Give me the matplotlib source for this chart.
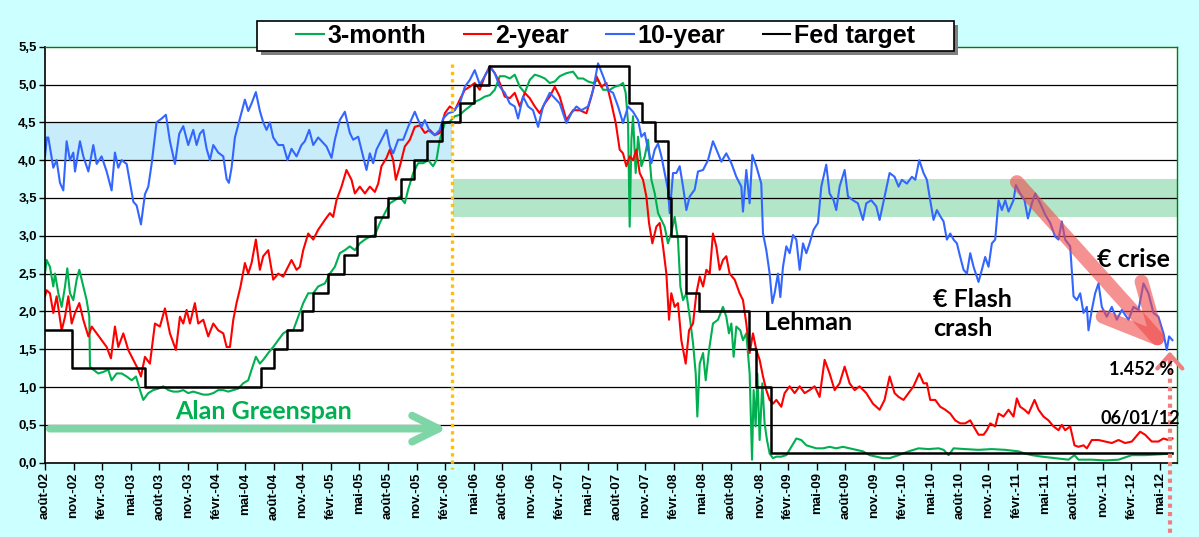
import matplotlib
matplotlib.use("Agg")
import matplotlib.pyplot as plt
from matplotlib.patches import Rectangle

# x = months since août-02
t_bill_m = [0, 0.17, 0.52, 0.87, 1.05, 1.4, 1.75, 2.1, 2.34, 2.62, 2.97, 3.32, 3.6, 4.02, 4.37, 4.65, 4.72, 5.07,
            5.59, 6.12, 6.64, 6.99, 7.52, 8.04, 8.57, 9.09, 9.55, 9.97, 10.31, 10.84, 11.36, 11.89, 12.41, 12.94,
            13.46, 13.99, 14.51, 15.03, 15.56, 16.08, 16.61, 17.13, 17.66, 18.18, 18.71, 19.23, 19.76, 20.28,
            20.8, 21.33, 21.68, 22.13, 22.55, 22.9, 23.43, 23.95, 24.48, 25.0, 25.52, 26.05, 26.57, 27.1, 27.62,
            28.15, 28.67, 29.37, 29.9, 30.42, 30.94, 31.47, 31.99, 32.52, 33.04, 33.57, 34.09, 34.62, 35.14,
            35.66, 36.19, 36.71, 37.24, 37.76, 38.11, 38.64, 39.16, 39.69, 40.21, 40.73, 41.08, 41.43, 41.96,
            42.48, 43.01, 43.53, 44.06, 44.58, 45.1, 45.63, 46.15, 46.68, 47.2, 47.73, 48.25, 48.78, 49.3, 49.83,
            50.35, 50.87, 51.4, 51.92, 52.45, 52.97, 53.5, 54.02, 54.72, 55.42, 55.94, 56.47, 56.99, 57.52, 58.04,
            58.57, 59.27, 59.79, 60.31, 60.66, 60.94, 61.19, 61.36, 61.54, 61.71, 61.99, 62.24, 62.59, 62.94,
            63.29, 63.64, 63.99, 64.34, 64.69, 65.03, 65.38, 65.73, 66.08, 66.43, 66.68, 66.96, 67.31, 67.66,
            68.01, 68.29, 68.46, 68.71, 69.06, 69.34, 69.69, 70.1, 70.63, 71.15, 71.5, 71.78, 72.03, 72.27, 72.55,
            72.97, 73.25, 73.6, 73.95, 74.2, 74.37, 74.58, 74.76, 75.0, 75.28, 75.52, 75.77, 76.05, 76.4, 76.75,
            77.27, 77.8, 78.32, 78.85, 79.37, 79.9, 80.42, 80.94, 81.64, 82.34, 83.04, 83.74, 84.44, 85.14, 85.84,
            86.54, 87.24, 87.94, 88.64, 89.34, 89.58, 90.63, 91.68, 92.72, 93.78, 94.3, 94.83, 95.35, 96.57,
            97.97, 99.37, 100.77, 102.17, 102.87, 103.57, 104.62, 106.01, 107.41, 108.04, 108.46, 109.86, 111.26,
            112.66, 113.36, 114.06, 115.45, 116.85, 118.32]
t_bill = [2.5, 2.68, 2.59, 2.33, 2.5, 2.24, 2.06, 2.33, 2.57, 2.24, 2.15, 2.42, 2.55, 2.33, 2.15, 1.93, 1.27, 1.23,
          1.18, 1.2, 1.23, 1.09, 1.18, 1.18, 1.14, 1.09, 1.14, 0.96, 0.83, 0.92, 0.96, 0.98, 1.01, 0.96,
          0.94, 0.94, 0.96, 0.92, 0.94, 0.92, 0.9, 0.9, 0.92, 0.96, 0.96, 0.94, 0.96, 0.98,
          1.05, 1.09, 1.23, 1.4, 1.31, 1.36, 1.45, 1.53, 1.62, 1.71, 1.75, 1.75, 1.93, 2.11, 2.24,
          2.24, 2.33, 2.37, 2.5, 2.59, 2.77, 2.81, 2.86, 2.81, 2.9, 2.95, 2.99, 3.01, 3.17,
          3.3, 3.43, 3.47, 3.52, 3.43, 3.61, 3.83, 3.96, 3.96, 4.0, 3.92, 4.0, 4.27, 4.49,
          4.51, 4.58, 4.6, 4.66, 4.71, 4.77, 4.8, 4.84, 4.86, 4.93, 5.11, 5.11, 5.08, 5.13, 4.97,
          4.89, 5.06, 5.13, 5.11, 5.08, 5.02, 5.04, 5.11, 5.15, 5.17, 5.08, 5.08, 5.04, 5.02, 5.06,
          4.93, 4.93, 4.97, 4.99, 5.02, 4.89, 4.49, 3.12, 4.27, 4.58, 3.83, 4.31, 3.92, 4.05,
          4.27, 3.74, 3.56, 3.3, 3.21, 3.12, 2.9, 3.04, 3.25, 2.95, 2.33, 2.15, 2.24, 1.93,
          1.58, 1.18, 0.61, 1.31, 1.45, 1.09, 1.49, 1.84, 1.89, 2.06, 1.93, 1.71, 1.84, 1.4, 1.8,
          1.75, 1.62, 1.71, 1.18, 0.04, 0.96, 0.48, 1.18, 0.3, 1.05, 0.52, 0.3, 0.12, 0.06, 0.08,
          0.08, 0.1, 0.21, 0.32, 0.3, 0.23, 0.21, 0.19, 0.19, 0.21, 0.19, 0.21, 0.19, 0.17, 0.15,
          0.1, 0.08, 0.06, 0.06, 0.09, 0.1, 0.15, 0.19, 0.18, 0.19, 0.17, 0.1, 0.19, 0.18,
          0.17, 0.18, 0.17, 0.15, 0.12, 0.1, 0.08, 0.06, 0.04, 0.1, 0.04, 0.04, 0.03,
          0.04, 0.07, 0.1, 0.1, 0.11, 0.12]

two_y_m = [0, 0.17, 0.52, 0.87, 1.22, 1.75, 2.1, 2.45, 2.8, 3.15, 3.6, 4.02, 4.55, 4.9, 5.42, 5.94, 6.47, 6.92,
           7.34, 7.69, 8.22, 8.74, 9.27, 9.79, 10.07, 10.49, 11.01, 11.54, 12.06, 12.59, 13.11, 13.74, 14.16,
           14.51, 14.86, 15.21, 15.73, 16.08, 16.61, 17.13, 17.66, 18.18, 18.71, 19.06, 19.41, 19.76, 20.1,
           20.52, 20.98, 21.33, 21.68, 22.13, 22.55, 22.9, 23.43, 23.95, 24.48, 25.0, 25.35, 25.87, 26.4, 26.75,
           27.1, 27.62, 28.15, 28.67, 29.37, 29.9, 30.24, 30.59, 31.12, 31.64, 32.17, 32.52, 33.04, 33.57, 34.09,
           34.62, 34.97, 35.31, 35.84, 36.19, 36.54, 36.82, 37.24, 37.76, 38.29, 38.81, 39.34, 39.86, 40.38,
           40.91, 41.43, 41.96, 42.48, 43.01, 43.53, 44.06, 44.58, 45.1, 45.63, 46.15, 46.68, 47.2, 47.73, 48.25,
           48.78, 49.3, 49.83, 50.35, 50.87, 51.4, 51.92, 52.45, 52.97, 53.5, 54.02, 54.72, 55.42, 56.12, 56.82,
           57.34, 57.87, 58.39, 58.92, 59.44, 59.9, 60.31, 60.66, 61.01, 61.36, 61.71, 62.06, 62.41, 62.76,
           63.11, 63.39, 63.74, 64.16, 64.51, 64.86, 65.21, 65.49, 65.73, 66.08, 66.43, 66.78, 67.24, 67.59,
           68.01, 68.36, 68.71, 69.06, 69.41, 69.76, 70.1, 70.45, 70.8, 71.15, 71.5, 71.85, 72.38, 72.9, 73.25,
           73.6, 73.95, 74.3, 74.65, 75.0, 75.35, 75.7, 76.05, 76.4, 76.75, 77.27, 77.62, 78.15, 78.67, 79.2,
           79.72, 80.24, 80.77, 81.29, 81.82, 82.34, 82.87, 83.39, 83.92, 84.44, 84.97, 85.49, 86.19, 86.89,
           87.59, 88.11, 88.64, 89.16, 89.58, 90.1, 90.63, 91.15, 91.75, 92.2, 92.55, 92.9, 93.43, 93.95, 94.48,
           95.0, 95.52, 96.05, 96.57, 97.1, 97.45, 97.97, 98.5, 98.85, 99.2, 99.72, 100.07, 100.59, 101.12,
           101.64, 101.99, 102.34, 102.8, 103.22, 103.85, 104.27, 104.79, 105.31, 105.84, 106.36, 106.71,
           107.06, 107.59, 108.04, 108.46, 108.99, 109.34, 109.86, 110.56, 111.26, 111.96, 112.66, 113.36,
           114.06, 114.93, 115.45, 116.15, 116.85, 117.38, 117.9, 118.32]
two_y = [2.2, 2.28, 2.24, 1.98, 2.2, 1.75, 1.93, 2.2, 1.84, 1.98, 2.11, 1.89, 1.67, 1.8, 1.71, 1.62, 1.53, 1.38,
         1.8, 1.53, 1.71, 1.49, 1.36, 1.23, 1.14, 1.4, 1.31, 1.84, 1.8, 2.04, 1.71, 1.49, 1.93,
         1.84, 2.02, 1.84, 2.11, 1.84, 1.89, 1.67, 1.84, 1.75, 1.71, 1.53, 1.53, 1.89, 2.11,
         2.33, 2.64, 2.5, 2.64, 2.95, 2.55, 2.73, 2.81, 2.42, 2.5, 2.46, 2.55, 2.68, 2.55, 2.59,
         2.81, 3.03, 2.95, 3.08, 3.21, 3.3, 3.25, 3.47, 3.65, 3.87, 3.74, 3.56, 3.65, 3.56, 3.65,
         3.58, 3.69, 3.92, 4.03, 4.14, 4.0, 3.74, 3.92, 4.18, 4.27, 4.44, 4.46, 4.36, 4.4,
         4.33, 4.36, 4.62, 4.71, 4.66, 4.8, 4.93, 4.97, 5.02, 4.93, 5.11, 5.24, 5.15, 5.02, 4.84,
         4.82, 4.89, 4.71, 4.89, 4.82, 4.71, 4.62, 4.75, 4.84, 4.97, 4.84, 4.53, 4.66, 4.66, 4.62,
         4.84, 5.11, 4.97, 5.02, 4.75, 4.49, 4.14, 4.09, 3.92, 4.05, 4.0, 4.14, 3.83, 3.74,
         3.52, 3.17, 2.9, 3.12, 3.17, 2.86, 2.5, 1.89, 2.24, 2.06, 2.11, 1.62, 1.31, 1.75,
         1.84, 2.24, 2.46, 2.33, 2.55, 2.5, 3.03, 2.86, 2.55, 2.68, 2.73, 2.5, 2.42, 2.24, 2.15,
         1.84, 1.45, 1.71, 1.49, 1.36, 1.14, 0.96, 0.83, 0.78, 0.83, 0.74, 0.92, 1.01, 0.92, 1.01,
         0.92, 0.96, 1.01, 0.87, 1.36, 1.18, 0.96, 1.05, 1.27, 1.05, 0.96, 1.01, 0.92, 0.78,
         0.7, 0.83, 1.14, 0.92, 0.87, 0.83, 0.92, 1.01, 1.18, 1.05, 1.05, 0.83, 0.83, 0.74, 0.7,
         0.65, 0.56, 0.52, 0.52, 0.56, 0.48, 0.37, 0.37, 0.43, 0.52, 0.48, 0.65, 0.61, 0.7,
         0.61, 0.85, 0.74, 0.7, 0.65, 0.83, 0.7, 0.61, 0.56, 0.48, 0.43, 0.5,
         0.43, 0.48, 0.23, 0.21, 0.23, 0.19, 0.3, 0.3, 0.28, 0.26, 0.3, 0.26,
         0.28, 0.41, 0.37, 0.28, 0.28, 0.32, 0.3, 0.32]

ten_y_m = [0, 0.2, 0.35, 0.87, 1.22, 1.57, 1.92, 2.27, 2.62, 2.97, 3.15, 3.67, 4.02, 4.55, 5.07, 5.42, 5.94, 6.47,
           6.99, 7.34, 7.69, 8.04, 8.57, 8.92, 9.27, 9.62, 10.07, 10.49, 10.84, 11.19, 11.71, 12.24, 12.69,
           13.11, 13.64, 14.09, 14.51, 15.03, 15.56, 15.91, 16.26, 16.61, 16.96, 17.31, 17.66, 18.18, 18.71,
           19.06, 19.3, 19.58, 19.93, 20.45, 20.98, 21.33, 21.68, 22.13, 22.55, 22.9, 23.25, 23.6, 23.95, 24.48,
           25.0, 25.45, 25.87, 26.4, 26.92, 27.27, 27.73, 28.15, 28.67, 29.55, 30.07, 30.42, 30.94, 31.47,
           31.99, 32.34, 32.87, 33.39, 33.74, 34.09, 34.44, 34.79, 35.31, 35.84, 36.19, 36.54, 37.06, 37.59,
           38.11, 38.81, 39.16, 39.51, 39.86, 40.38, 40.91, 41.43, 41.78, 42.31, 42.83, 43.53, 44.06, 44.58,
           45.1, 45.63, 46.15, 46.68, 47.2, 47.73, 48.25, 48.78, 49.3, 49.65, 50.17, 50.7, 51.22, 51.75, 52.27,
           52.97, 53.5, 54.02, 54.72, 55.24, 55.77, 56.29, 56.99, 57.52, 58.04, 58.57, 59.09, 59.62, 60.14,
           60.66, 61.19, 61.71, 62.24, 62.59, 62.94, 63.29, 63.64, 63.99, 64.34, 64.69, 65.03, 65.38, 65.56,
           65.91, 66.26, 66.61, 66.96, 67.31, 67.66, 68.18, 68.53, 69.06, 69.58, 70.1, 70.63, 70.98, 71.5,
           72.03, 72.55, 73.08, 73.25, 73.6, 73.95, 74.23, 74.65, 75.17, 75.35, 75.7, 76.05, 76.33, 76.57,
           76.92, 77.17, 77.45, 77.8, 78.15, 78.5, 78.85, 79.2, 79.55, 79.9, 80.24, 80.66, 81.12, 81.47, 81.99,
           82.34, 82.76, 83.04, 83.39, 83.92, 84.27, 84.79, 85.31, 85.84, 86.19, 86.71, 87.24, 87.59, 88.11,
           88.64, 89.16, 89.58, 89.93, 90.45, 90.98, 91.33, 91.75, 92.2, 92.55, 92.9, 93.25, 93.6, 93.95, 94.3,
           94.65, 95.0, 95.35, 95.7, 96.05, 96.4, 96.75, 97.1, 97.45, 97.97, 98.32, 98.67, 99.02, 99.37, 99.72,
           100.07, 100.42, 100.77, 101.12, 101.64, 101.89, 102.34, 102.8, 103.15, 103.57, 103.92, 104.44,
           104.97, 105.49, 106.01, 106.36, 106.71, 107.06, 107.59, 107.94, 108.29, 108.64, 108.99, 109.34,
           109.51, 109.86, 110.21, 110.56, 110.91, 111.43, 111.96, 112.48, 113.01, 113.71, 114.23, 114.76,
           115.28, 115.8, 116.33, 116.85, 117.38, 117.73, 117.97, 118.32]
ten_y = [4.05, 4.3, 4.3, 3.9, 4.0, 3.7, 3.6, 4.25, 4.0, 4.1, 3.85, 4.25, 4.05, 3.85, 4.2, 3.95, 4.05, 3.85,
         3.6, 4.1, 3.9, 4.0, 3.95, 3.7, 3.45, 3.4, 3.15, 3.55, 3.65, 3.95, 4.5, 4.55, 4.6,
         4.25, 3.95, 4.35, 4.45, 4.2, 4.4, 4.2, 4.35, 4.4, 4.15, 4.0, 4.2, 4.1, 4.05,
         3.75, 3.7, 3.9, 4.3, 4.55, 4.8, 4.65, 4.75, 4.9, 4.65, 4.5, 4.4, 4.5, 4.3, 4.2,
         4.2, 4.0, 4.15, 4.05, 4.2, 4.25, 4.4, 4.2, 4.3, 4.18, 4.03, 4.27, 4.53, 4.64,
         4.36, 4.27, 4.31, 4.05, 3.87, 4.09, 3.96, 4.14, 4.27, 4.4, 4.18, 4.09, 4.27, 4.27,
         4.44, 4.64, 4.53, 4.44, 4.53, 4.38, 4.33, 4.4, 4.55, 4.62, 4.64, 4.75, 4.97, 5.06,
         5.19, 5.0, 5.11, 5.24, 5.15, 4.97, 4.89, 4.75, 4.71, 4.55, 4.84, 4.71, 4.66, 4.44, 4.71,
         4.89, 4.82, 4.75, 4.49, 4.62, 4.71, 4.66, 4.71, 4.93, 5.28, 5.11, 4.93, 4.89, 4.71,
         4.49, 4.71, 4.64, 4.53, 4.31, 4.36, 4.14, 3.96, 4.14, 4.22, 4.05, 3.83, 3.61, 3.3,
         3.83, 3.83, 3.92, 3.65, 3.34, 3.52, 3.61, 3.85, 3.87, 4.0, 4.25, 4.09, 3.98, 4.09,
         3.96, 3.78, 3.65, 3.32, 3.87, 3.43, 4.07, 3.92, 3.69, 3.03, 2.81, 2.5, 2.11, 2.24,
         2.5, 2.19, 2.59, 2.86, 2.77, 3.01, 2.95, 2.55, 2.9, 2.77, 2.9, 3.08, 3.17, 3.65, 3.94,
         3.56, 3.47, 3.34, 3.65, 3.87, 3.52, 3.47, 3.43, 3.21, 3.43, 3.47, 3.39, 3.21, 3.52,
         3.83, 3.78, 3.65, 3.74, 3.69, 3.78, 3.74, 4.0, 3.83, 3.74, 3.47, 3.21, 3.34, 3.26, 3.19,
         2.95, 3.03, 2.95, 2.9, 2.72, 2.55, 2.5, 2.77, 2.59, 2.39, 2.55, 2.72, 2.59, 2.9, 2.95,
         3.47, 3.34, 3.47, 3.32, 3.47, 3.67, 3.56, 3.47, 3.23, 3.43, 3.56, 3.43,
         3.28, 3.17, 2.99, 2.95, 3.19, 2.95, 2.86, 2.2, 2.15, 2.24, 1.98, 2.06,
         1.75, 2.02, 2.24, 2.37, 2.06, 1.93, 2.06, 1.89, 2.02, 1.89, 2.06, 2.02,
         2.37, 2.24, 1.98, 1.93, 1.71, 1.49, 1.67, 1.62]

fed_m = [0, 2.87, 10.5, 22.67, 24.0, 25.37, 27.0, 28.13, 29.73, 31.4, 32.77, 34.67, 35.97, 37.33, 38.7, 40.1,
         41.67, 43.6, 45.0, 46.63, 61.27, 62.67, 64.03, 65.4, 65.67, 67.27, 68.67, 73.93, 74.63, 76.2, 118.32]
fed = [1.75, 1.25, 1.0, 1.25, 1.5, 1.75, 2.0, 2.25, 2.5, 2.75, 3.0, 3.25, 3.5, 3.75, 4.0, 4.25,
       4.5, 4.75, 5.0, 5.25, 4.75, 4.5, 4.25, 3.5, 3.0, 2.25, 2.0, 1.5, 1.0, 0.125, 0.125]

tick_months = list(range(0, 118, 3))
month_names = ["août", "nov.", "févr.", "mai"]
tick_labels = []
for i, m in enumerate(tick_months):
    year = 2 + (m + 7) // 12
    tick_labels.append("%s-%02d" % (month_names[i % 4], year))

greenspan_end = 42.7
last_day = 118.05

BG = "#CCFFFF"
fig = plt.figure(figsize=(11.99, 5.37), dpi=100, facecolor=BG)
ax = fig.add_axes([45 / 1199, 1 - 462.7 / 537, 1132 / 1199, 416 / 537])
ax.set_facecolor("white")

# bands
ax.fill_between([0, greenspan_end], 4.0, 4.5, color="#C8ECFA", lw=0, zorder=0.5)
ax.fill_between([greenspan_end + 0.1, 118.8], 3.25, 3.75, color="#B3E6C8", lw=0, zorder=0.5)

for g in [0.5 * k for k in range(1, 11)]:
    ax.axhline(g, color="black", lw=0.9, zorder=1)

ax.plot(t_bill_m, t_bill, color="#00B050", lw=1.5, zorder=2, label="3-month")
ax.plot(two_y_m, two_y, color="#FF0000", lw=1.5, zorder=2.1, label="2-year")
ax.plot(ten_y_m, ten_y, color="#3366FF", lw=1.5, zorder=2.2, label="10-year")
ax.plot(fed_m, fed, color="black", lw=1.8, drawstyle="steps-post", zorder=2.3, label="Fed target")

ax.set_xlim(0, 118.8)
ax.set_ylim(0, 5.5)
ax.set_yticks([0.5 * k for k in range(12)])
ax.set_yticklabels([("%.1f" % (0.5 * k)).replace(".", ",") for k in range(12)],
                   fontsize=9.5, fontweight="bold", family="Liberation Sans")
ax.set_xticks(tick_months)
ax.set_xticklabels(tick_labels, rotation=90, fontsize=9.5, fontweight="bold", family="Liberation Sans")
ax.tick_params(axis="y", direction="out", length=4, width=1, pad=2)
ax.tick_params(axis="x", direction="out", length=5, width=1, pad=2)
for side in ["top", "right"]:
    ax.spines[side].set_color("#008000")
    ax.spines[side].set_linewidth(1)
for side in ["left", "bottom"]:
    ax.spines[side].set_color("black")
    ax.spines[side].set_linewidth(1.2)

# Greenspan era
ax.plot([greenspan_end, greenspan_end], [5.27, -0.08], color="#FFC000", lw=2.4,
        ls=(0, (1, 1.2)), clip_on=False, zorder=5)
ax.annotate("", xy=(42.2, 0.45), xytext=(0.5, 0.45),
            arrowprops=dict(arrowstyle="->,head_length=0.95,head_width=0.47", mutation_scale=20,
                            lw=5.5, color="#7ED6A6", capstyle="round", joinstyle="round",
                            shrinkA=0, shrinkB=0), zorder=4)
ax.text(22.9, 0.68, "Alan Greenspan", color="#00B050", fontsize=18, fontweight="bold",
        family="Lato", ha="center", va="center", zorder=6)

# euro crisis arrow
ax.annotate("", xy=(117.84, 1.49), xytext=(102.0, 3.71),
            arrowprops=dict(arrowstyle="->,head_length=0.95,head_width=0.47", mutation_scale=40,
                            lw=10, color="#F04848", alpha=0.6, capstyle="round", joinstyle="round",
                            shrinkA=0, shrinkB=0), zorder=4)

# last day marker
ax.plot([last_day, last_day], [1.33, -1.0], color="#F08080", lw=3, ls=(0, (1, 1)),
        clip_on=False, zorder=5)
ax.annotate("", xy=(last_day, 1.47), xytext=(last_day, 1.3),
            arrowprops=dict(arrowstyle="->,head_length=0.5,head_width=0.45", mutation_scale=20,
                            lw=3, color="#F08080", shrinkA=0, shrinkB=0), zorder=5,
            annotation_clip=False)

ax.text(80.1, 1.86, "Lehman", fontsize=18, fontweight="bold", family="Lato", ha="center", va="center")
ax.text(93.2, 1.965, "€ Flash\ncrash", fontsize=18, fontweight="bold", family="Lato", ha="left",
        va="center", linespacing=1.3)
ax.text(114.2, 2.68, "€ crise", fontsize=18, fontweight="bold", family="Lato", ha="center", va="center")
ax.text(115.1, 1.23, "1.452 %", fontsize=13, fontweight="bold", family="Lato", ha="center", va="center",
        zorder=6)
ax.text(114.9, 0.59, "06/01/12", fontsize=13, fontweight="bold", family="Lato", ha="center",
        va="center", zorder=6)

# legend with a boxed shadow frame
shadow = Rectangle((261 / 1199, 1 - 54.7 / 537), 697 / 1199, 30 / 537, transform=fig.transFigure,
                   facecolor="#7F7F7F", edgecolor="none", clip_on=False, zorder=8)
frame = Rectangle((257 / 1199, 1 - 50.7 / 537), 697 / 1199, 30 / 537, transform=fig.transFigure,
                  facecolor="white", edgecolor="black", lw=1.2, clip_on=False, zorder=9)
ax.add_patch(shadow)
ax.add_patch(frame)
leg = ax.legend(loc="center", bbox_to_anchor=(605.5 / 1199, 1 - 35.7 / 537), bbox_transform=fig.transFigure,
                ncol=4, frameon=False, handlelength=1.1, handletextpad=0.15, columnspacing=1.5,
                prop={"family": "Liberation Sans", "weight": "bold", "size": 18})
leg.set_zorder(10)
for h in leg.get_lines():
    h.set_linewidth(1.5)

fig.savefig("out.png", dpi=100, facecolor=BG)
